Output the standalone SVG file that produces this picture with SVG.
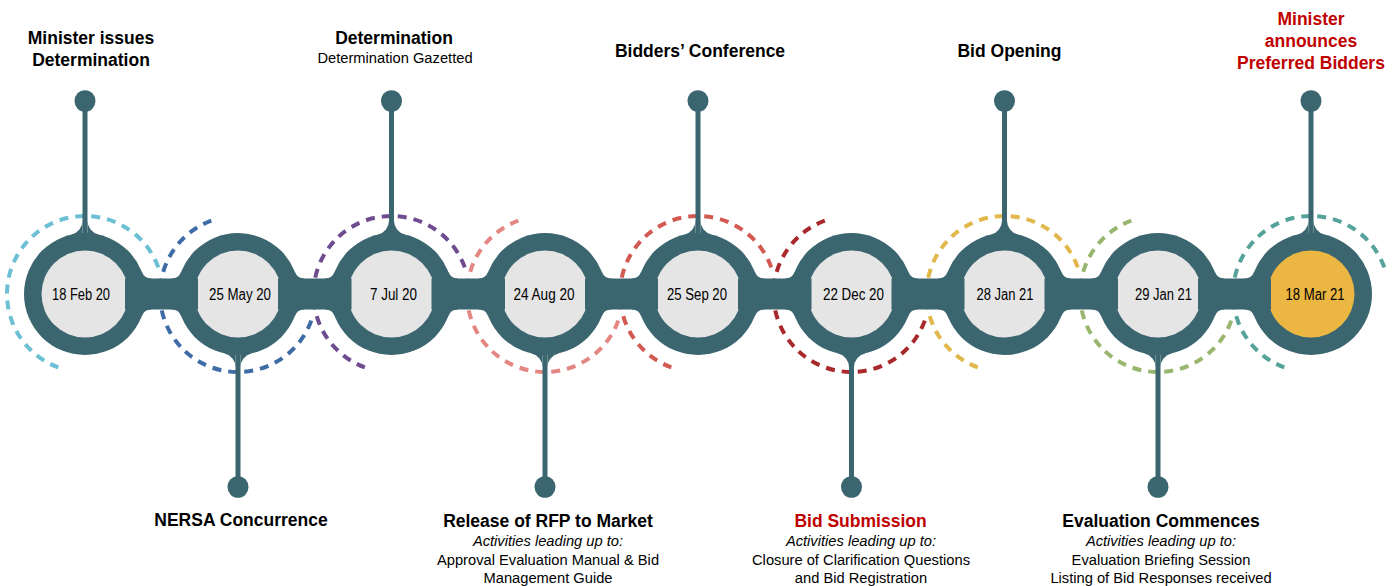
<svg xmlns="http://www.w3.org/2000/svg" width="1397" height="586" viewBox="0 0 1397 586">
<style>
.dk{fill:#3B6670}
.in{fill:#E5E5E5}
.dash{fill:none;stroke-width:4;stroke-dasharray:9 7}
text{font-family:"Liberation Sans",Arial,sans-serif;text-anchor:middle;fill:#000}
.h{font-size:17.5px;font-weight:bold}
.s{font-size:14.7px}
.it{font-size:14.7px;font-style:italic}
.d{font-size:16px}
.red{fill:#C00000}
</style>
<defs>
<path id="arc" d="M73.3,-26.68 A78,78 0 1 0 -26.68,73.3"/>
<path id="bf" d="M56.93,-21.91 A10,10 0 0 0 66.26,-15.5 L66.26,-4 L40,-4 Z"/>
<g id="stem">
<rect x="-2.5" y="-193" width="5" height="140"/>
<path d="M13.42,-59.5 A14,14 0 0 1 2.5,-73.16 L2.5,-50 Z"/>
<path transform="scale(-1,1)" d="M13.42,-59.5 A14,14 0 0 1 2.5,-73.16 L2.5,-50 Z"/>
<ellipse cx="0" cy="-193" rx="10.5" ry="10.8"/>
</g>
</defs>

<g id="node1" transform="translate(85,294)">
<use href="#arc" class="dash" style="stroke:#6CC0D3"/>
<circle class="dk" r="61"/>
<use href="#stem" class="dk"/>
<circle class="in" r="43.5"/>
<text class="d" x="-4" y="5.5" textLength="58" lengthAdjust="spacingAndGlyphs">18 Feb 20</text>
<text class="h" x="6" y="-250">Minister issues</text>
<text class="h" x="6" y="-228">Determination</text>
</g>

<g id="node2" transform="translate(238,294)">
<use href="#arc" class="dash" transform="scale(1,-1)" style="stroke:#3E6CA6"/>
<circle class="dk" r="61"/>
<use href="#stem" class="dk" transform="scale(1,-1)"/>
<circle class="in" r="43.5"/>
<text class="d" x="2" y="5.5" textLength="62" lengthAdjust="spacingAndGlyphs">25 May 20</text>
<text class="h" x="3" y="232">NERSA Concurrence</text>
</g>

<g id="node3" transform="translate(391.5,294)">
<use href="#arc" class="dash" style="stroke:#6E4C8F"/>
<circle class="dk" r="61"/>
<use href="#stem" class="dk"/>
<circle class="in" r="43.5"/>
<text class="d" x="2" y="5.5" textLength="47" lengthAdjust="spacingAndGlyphs">7 Jul 20</text>
<text class="h" x="2.5" y="-250">Determination</text>
<text class="s" x="3.5" y="-231">Determination Gazetted</text>
</g>

<g id="node4" transform="translate(545,294)">
<use href="#arc" class="dash" transform="scale(1,-1)" style="stroke:#E48783"/>
<circle class="dk" r="61"/>
<use href="#stem" class="dk" transform="scale(1,-1)"/>
<circle class="in" r="43.5"/>
<text class="d" x="-1" y="5.5" textLength="61" lengthAdjust="spacingAndGlyphs">24 Aug 20</text>
<text class="h" x="3" y="233">Release of RFP to Market</text>
<text class="it" x="3" y="252">Activities leading up to:</text>
<text class="s" x="3" y="271">Approval Evaluation Manual &amp; Bid</text>
<text class="s" x="3" y="289">Management Guide</text>
</g>

<g id="node5" transform="translate(698,294)">
<use href="#arc" class="dash" style="stroke:#D25A52"/>
<circle class="dk" r="61"/>
<use href="#stem" class="dk"/>
<circle class="in" r="43.5"/>
<text class="d" x="-1" y="5.5" textLength="60" lengthAdjust="spacingAndGlyphs">25 Sep 20</text>
<text class="h" x="2" y="-237">Bidders’ Conference</text>
</g>

<g id="node6" transform="translate(851.5,294)">
<use href="#arc" class="dash" transform="scale(1,-1)" style="stroke:#A9282C"/>
<circle class="dk" r="61"/>
<use href="#stem" class="dk" transform="scale(1,-1)"/>
<circle class="in" r="43.5"/>
<text class="d" x="2" y="5.5" textLength="61" lengthAdjust="spacingAndGlyphs">22 Dec 20</text>
<text class="h red" x="9" y="233">Bid Submission</text>
<text class="it" x="9.5" y="252">Activities leading up to:</text>
<text class="s" x="9.5" y="271">Closure of Clarification Questions</text>
<text class="s" x="9.5" y="289">and Bid Registration</text>
</g>

<g id="node7" transform="translate(1004.5,294)">
<use href="#arc" class="dash" style="stroke:#E2B84C"/>
<circle class="dk" r="61"/>
<use href="#stem" class="dk"/>
<circle class="in" r="43.5"/>
<text class="d" x="0.5" y="5.5" textLength="57" lengthAdjust="spacingAndGlyphs">28 Jan 21</text>
<text class="h" x="5" y="-237">Bid Opening</text>
</g>

<g id="node8" transform="translate(1158,294)">
<use href="#arc" class="dash" transform="scale(1,-1)" style="stroke:#98B66E"/>
<circle class="dk" r="61"/>
<use href="#stem" class="dk" transform="scale(1,-1)"/>
<circle class="in" r="43.5"/>
<text class="d" x="5.5" y="5.5" textLength="57" lengthAdjust="spacingAndGlyphs">29 Jan 21</text>
<text class="h" x="3" y="233">Evaluation Commences</text>
<text class="it" x="3" y="252">Activities leading up to:</text>
<text class="s" x="3" y="271">Evaluation Briefing Session</text>
<text class="s" x="3" y="289">Listing of Bid Responses received</text>
</g>

<g id="node9" transform="translate(1311,294)">
<use href="#arc" class="dash" style="stroke:#55A39A"/>
<circle class="dk" r="61"/>
<use href="#stem" class="dk"/>
<circle fill="#EBB742" r="43.5"/>
<text class="d" x="4" y="5.5" textLength="59" lengthAdjust="spacingAndGlyphs">18 Mar 21</text>
<text class="h red" x="0" y="-269">Minister</text>
<text class="h red" x="0" y="-247">announces</text>
<text class="h red" x="0" y="-225">Preferred Bidders</text>
</g>

<g id="connectors" class="dk">
<rect x="125" y="278.5" width="73" height="31"/>
<rect x="278" y="278.5" width="73.5" height="31"/>
<rect x="431.5" y="278.5" width="73.5" height="31"/>
<rect x="585" y="278.5" width="73" height="31"/>
<rect x="738" y="278.5" width="73.5" height="31"/>
<rect x="891.5" y="278.5" width="73" height="31"/>
<rect x="1044.5" y="278.5" width="73.5" height="31"/>
<rect x="1198" y="278.5" width="73" height="31"/>
<use href="#bf" transform="translate(85,294)"/>
<use href="#bf" transform="translate(85,294) scale(1,-1)"/>
<use href="#bf" transform="translate(238,294)"/>
<use href="#bf" transform="translate(238,294) scale(1,-1)"/>
<use href="#bf" transform="translate(238,294) scale(-1,1)"/>
<use href="#bf" transform="translate(238,294) scale(-1,-1)"/>
<use href="#bf" transform="translate(391.5,294)"/>
<use href="#bf" transform="translate(391.5,294) scale(1,-1)"/>
<use href="#bf" transform="translate(391.5,294) scale(-1,1)"/>
<use href="#bf" transform="translate(391.5,294) scale(-1,-1)"/>
<use href="#bf" transform="translate(545,294)"/>
<use href="#bf" transform="translate(545,294) scale(1,-1)"/>
<use href="#bf" transform="translate(545,294) scale(-1,1)"/>
<use href="#bf" transform="translate(545,294) scale(-1,-1)"/>
<use href="#bf" transform="translate(698,294)"/>
<use href="#bf" transform="translate(698,294) scale(1,-1)"/>
<use href="#bf" transform="translate(698,294) scale(-1,1)"/>
<use href="#bf" transform="translate(698,294) scale(-1,-1)"/>
<use href="#bf" transform="translate(851.5,294)"/>
<use href="#bf" transform="translate(851.5,294) scale(1,-1)"/>
<use href="#bf" transform="translate(851.5,294) scale(-1,1)"/>
<use href="#bf" transform="translate(851.5,294) scale(-1,-1)"/>
<use href="#bf" transform="translate(1004.5,294)"/>
<use href="#bf" transform="translate(1004.5,294) scale(1,-1)"/>
<use href="#bf" transform="translate(1004.5,294) scale(-1,1)"/>
<use href="#bf" transform="translate(1004.5,294) scale(-1,-1)"/>
<use href="#bf" transform="translate(1158,294)"/>
<use href="#bf" transform="translate(1158,294) scale(1,-1)"/>
<use href="#bf" transform="translate(1158,294) scale(-1,1)"/>
<use href="#bf" transform="translate(1158,294) scale(-1,-1)"/>
<use href="#bf" transform="translate(1311,294) scale(-1,1)"/>
<use href="#bf" transform="translate(1311,294) scale(-1,-1)"/>
</g>
</svg>
